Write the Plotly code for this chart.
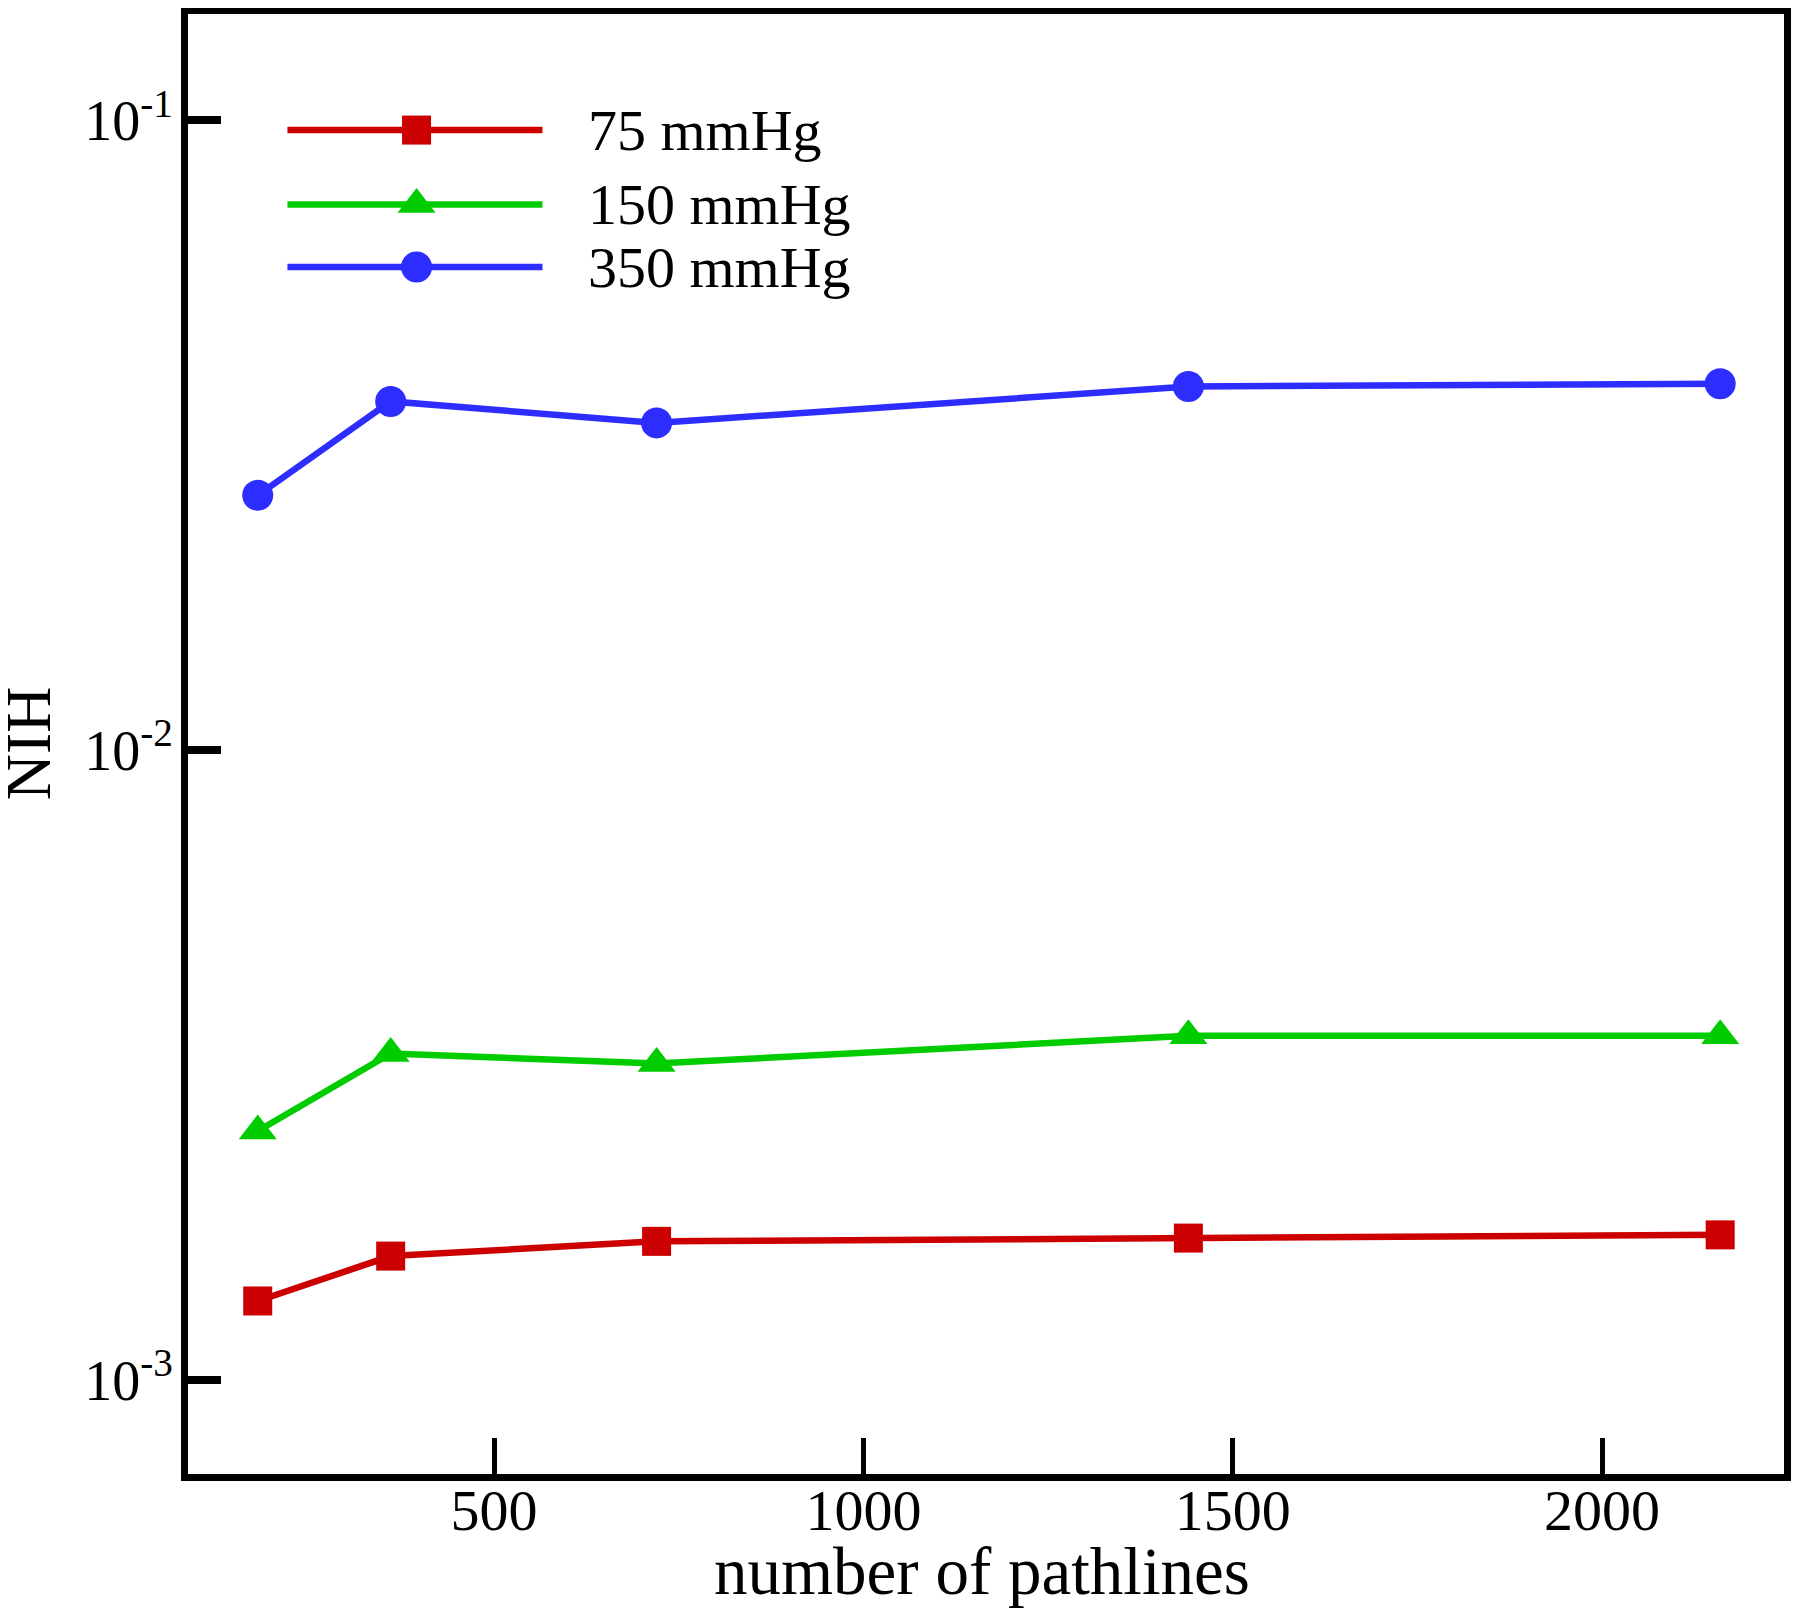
import plotly.graph_objects as go

# ---- data ----
pathlines = [180, 360, 720, 1440, 2160]
nih_75 = [0.001335, 0.001573, 0.00166, 0.00168, 0.0017]
nih_150 = [0.002485, 0.0033, 0.00318, 0.00352, 0.00352]
nih_350 = [0.0254, 0.0358, 0.0331, 0.0378, 0.0382]
series_names = ["75 mmHg", "150 mmHg", "350 mmHg"]
y_tickvals = [0.1, 0.01, 0.001]
y_ticktext = ["10<sup>-1</sup>", "10<sup>-2</sup>", "10<sup>-3</sup>"]
x_tickvals = [500, 1000, 1500, 2000]
x_title = "number of pathlines"
y_title = "NIH"

# ---- styles ----
colors = ["rgb(204,0,0)", "rgb(0,204,0)", "rgb(45,45,255)"]
symbols = ["square", "triangle-up", "circle"]
msizes = [29, 33, 31]
LW = 6.5
FONT = "Liberation Serif, Times New Roman, serif"

fig = go.Figure()
for name, ys, c, s, ms in zip(series_names, [nih_75, nih_150, nih_350], colors, symbols, msizes):
    fig.add_trace(go.Scatter(
        x=pathlines, y=ys, mode="lines+markers", name=name,
        line=dict(color=c, width=LW),
        marker=dict(symbol=s, size=ms, color=c, line=dict(width=0)),
        showlegend=False,
    ))

# ---- custom legend (long sample lines) on an overlay axis in [0,1] ----
leg_x0, leg_x1, leg_xm, leg_tx = 0.0623, 0.2221, 0.1432, 0.2491
leg_ys = [0.9205, 0.8695, 0.8267]
for name, c, s, ms, ly in zip(series_names, colors, symbols, msizes, leg_ys):
    fig.add_trace(go.Scatter(
        x=[leg_x0, leg_x1], y=[ly, ly], mode="lines",
        line=dict(color=c, width=LW), xaxis="x2", yaxis="y2",
        showlegend=False, hoverinfo="skip"))
    fig.add_trace(go.Scatter(
        x=[leg_xm], y=[ly], mode="markers",
        marker=dict(symbol=s, size=ms, color=c, line=dict(width=0)),
        xaxis="x2", yaxis="y2", showlegend=False, hoverinfo="skip"))
    fig.add_annotation(x=leg_tx, y=ly, xref="paper", yref="paper",
                       text=name, showarrow=False, xanchor="left", yanchor="middle",
                       font=dict(family=FONT, size=58, color="black"))

# axis titles
fig.add_annotation(x=0.4978, y=-0.0665, xref="paper", yref="paper", text=x_title,
                   showarrow=False, xanchor="center", yanchor="middle",
                   font=dict(family=FONT, size=67, color="black"))
fig.add_annotation(x=-0.0995, y=0.5007, xref="paper", yref="paper", text=y_title,
                   textangle=-90, showarrow=False, xanchor="center", yanchor="middle",
                   font=dict(family=FONT, size=64, color="black"))

fig.update_layout(
    width=1784, height=1608,
    margin=dict(l=180, r=8, t=6, b=142),
    plot_bgcolor="white", paper_bgcolor="white",
    showlegend=False,
    font=dict(family=FONT, color="black"),
    xaxis=dict(
        range=[85.6, 2246.4], tickvals=x_tickvals,
        ticks="inside", ticklen=36, tickwidth=5, tickcolor="black",
        showline=True, linewidth=7, linecolor="black", mirror=True,
        showgrid=False, zeroline=False,
        tickfont=dict(family=FONT, size=58),
        ticklabelstandoff=-21,
        automargin=False,
    ),
    yaxis=dict(
        type="log", range=[-3.1493, -0.8309],
        tickvals=y_tickvals, ticktext=y_ticktext,
        ticks="inside", ticklen=33, tickwidth=8, tickcolor="black",
        showline=True, linewidth=7, linecolor="black", mirror=True,
        showgrid=False, zeroline=False,
        tickfont=dict(family=FONT, size=56),
        ticklabelstandoff=-3,
        automargin=False,
    ),
    xaxis2=dict(overlaying="x", range=[0, 1], visible=False),
    yaxis2=dict(overlaying="y", range=[0, 1], visible=False),
)

fig.write_html("out.html")
